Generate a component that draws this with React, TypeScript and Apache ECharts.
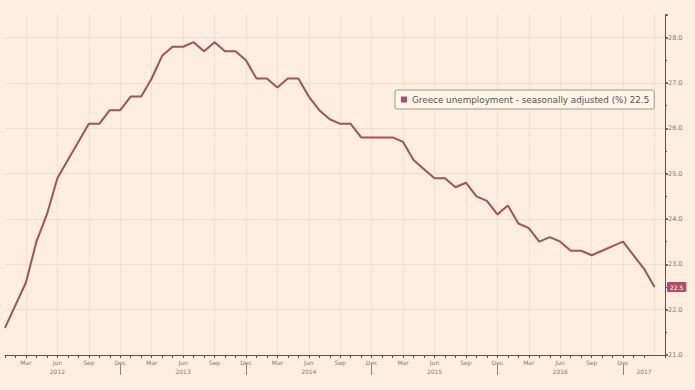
import { useEffect, useRef } from 'react';
import * as echarts from 'echarts';

// ---- data ----
const START_YEAR = 2012;
const MONTH_NAMES = ['Jan', 'Feb', 'Mar', 'Apr', 'May', 'Jun', 'Jul', 'Aug', 'Sep', 'Oct', 'Nov', 'Dec'];
const SERIES_NAME = 'Greece unemployment - seasonally adjusted (%)';

// Monthly values Jan 2012 .. Mar 2017, plus one empty slot (Apr 2017) for axis room
const unemployment: (number | null)[] = [
  // 2012
  21.6, 22.1, 22.6, 23.5, 24.1, 24.9, 25.3, 25.7, 26.1, 26.1, 26.4, 26.4,
  // 2013
  26.7, 26.7, 27.1, 27.6, 27.8, 27.8, 27.9, 27.7, 27.9, 27.7, 27.7, 27.5,
  // 2014
  27.1, 27.1, 26.9, 27.1, 27.1, 26.7, 26.4, 26.2, 26.1, 26.1, 25.8, 25.8,
  // 2015
  25.8, 25.8, 25.7, 25.3, 25.1, 24.9, 24.9, 24.7, 24.8, 24.5, 24.4, 24.1,
  // 2016
  24.3, 23.9, 23.8, 23.5, 23.6, 23.5, 23.3, 23.3, 23.2, 23.3, 23.4, 23.5,
  // 2017
  23.2, 22.9, 22.5, null,
];

const labelledMonths = ['Mar', 'Jun', 'Sep', 'Dec'];
const yearLabelMonths = ['2012-Jun', '2013-Jun', '2014-Jun', '2015-Jun', '2016-Jun', '2017-Feb'];
const yTickLabels = [21, 22, 23, 24, 25, 26, 27, 28];

const categories: string[] = unemployment.map((_, i) => {
  const y = START_YEAR + Math.floor(i / 12);
  return `${y}-${MONTH_NAMES[i % 12]}`;
});

const BG = '#FDEEE1';
const LINE = '#A5505F';
const BADGE = '#B24D69';
const AXIS = '#5E5149';
const GRID = '#F1DFCF';
const TXT = '#857970';
const FONT = 'DejaVu Sans';

export default function App() {
  const ref = useRef<HTMLDivElement>(null);

  useEffect(() => {
    if (!ref.current) return;
    const chart = echarts.init(ref.current, undefined, { renderer: 'svg' });
    const lastVal = [...unemployment].reverse().find((v) => v != null) as number;

    const monthOf = (v: string) => v.split('-')[1];
    const yearOf = (v: string) => v.split('-')[0];

    const option: any = {
      animation: false,
      backgroundColor: BG,
      textStyle: { fontFamily: FONT },
      grid: { left: 5, right: 30, top: 15, bottom: 35, containLabel: false },
      legend: {
        show: true,
        left: 395,
        top: 90,
        orient: 'horizontal',
        icon: 'rect',
        itemWidth: 6,
        itemHeight: 6,
        padding: [5, 5, 5, 6],
        backgroundColor: '#FDF4EA',
        borderColor: '#A39787',
        borderWidth: 1,
        borderRadius: 2,
        selectedMode: false,
        textStyle: { color: '#5E5048', fontSize: 8.8, fontFamily: FONT },
        formatter: (name: string) => `${name} ${lastVal.toFixed(1)}`,
        data: [{ name: SERIES_NAME, itemStyle: { color: BADGE } }],
      },
      xAxis: [
        {
          type: 'category',
          data: categories,
          boundaryGap: false,
          axisLine: { show: true, lineStyle: { color: AXIS, width: 1 } },
          axisTick: { show: true, interval: 0, length: 3, lineStyle: { color: AXIS } },
          axisLabel: {
            interval: (_i: number, v: string) =>
              labelledMonths.includes(monthOf(v)) || yearLabelMonths.includes(v),
            formatter: (v: string) => {
              const m = labelledMonths.includes(monthOf(v)) ? monthOf(v) : '';
              return yearLabelMonths.includes(v) ? `${m}\n${yearOf(v)}` : m;
            },
            fontSize: 6,
            lineHeight: 9,
            color: TXT,
            margin: 3,
            fontFamily: FONT,
          },
          splitLine: {
            show: true,
            interval: (_i: number, v: string) => labelledMonths.includes(monthOf(v)),
            lineStyle: { color: GRID, width: 1 },
          },
        },
        {
          type: 'category',
          data: categories,
          boundaryGap: false,
          position: 'bottom',
          offset: 10,
          axisLine: { show: false },
          axisTick: {
            show: true,
            interval: (_i: number, v: string) => monthOf(v) === 'Dec',
            length: 10,
            lineStyle: { color: '#8E8279' },
          },
          axisLabel: { show: false },
          splitLine: { show: false },
        },
      ],
      yAxis: [
        {
          type: 'value',
          position: 'right',
          min: 21,
          max: 28.5,
          interval: 1,
          axisLine: { show: true, lineStyle: { color: AXIS, width: 1 } },
          axisTick: { show: true, length: 3, lineStyle: { color: AXIS, width: 1.5 } },
          axisLabel: {
            formatter: (v: number) => (yTickLabels.includes(v) ? v.toFixed(1) : ''),
            fontSize: 6.5,
            color: TXT,
            margin: 3,
            fontFamily: FONT,
          },
          splitLine: { show: true, showMaxLine: false, lineStyle: { color: GRID, width: 1 } },
          axisPointer: {
            show: true,
            type: 'line',
            value: lastVal,
            status: 'show',
            triggerTooltip: false,
            lineStyle: { opacity: 0, width: 0 },
            label: {
              show: true,
              backgroundColor: BADGE,
              color: '#FFFFFF',
              fontSize: 6,
              fontFamily: FONT,
              padding: [2, 3, 2, 3],
              margin: 2,
              borderRadius: 1,
              formatter: (p: any) => Number(p.value).toFixed(1),
            },
          },
        },
        {
          type: 'value',
          position: 'right',
          min: 21,
          max: 28.5,
          interval: 0.5,
          axisLine: { show: false },
          axisTick: { show: true, length: 2, lineStyle: { color: AXIS } },
          axisLabel: { show: false },
          splitLine: { show: false },
        },
      ],
      series: [
        {
          type: 'line',
          name: SERIES_NAME,
          data: unemployment,
          xAxisIndex: 0,
          yAxisIndex: 0,
          symbol: 'none',
          connectNulls: false,
          lineStyle: { color: LINE, width: 2 },
          itemStyle: { color: BADGE },
        },
      ],
    };

    chart.setOption(option);
    return () => chart.dispose();
  }, []);

  return (
    <div
      style={{ position: 'fixed', left: 0, top: 0, width: 695, height: 390, background: BG }}
    >
      <div ref={ref} style={{ width: 695, height: 390 }} />
    </div>
  );
}
